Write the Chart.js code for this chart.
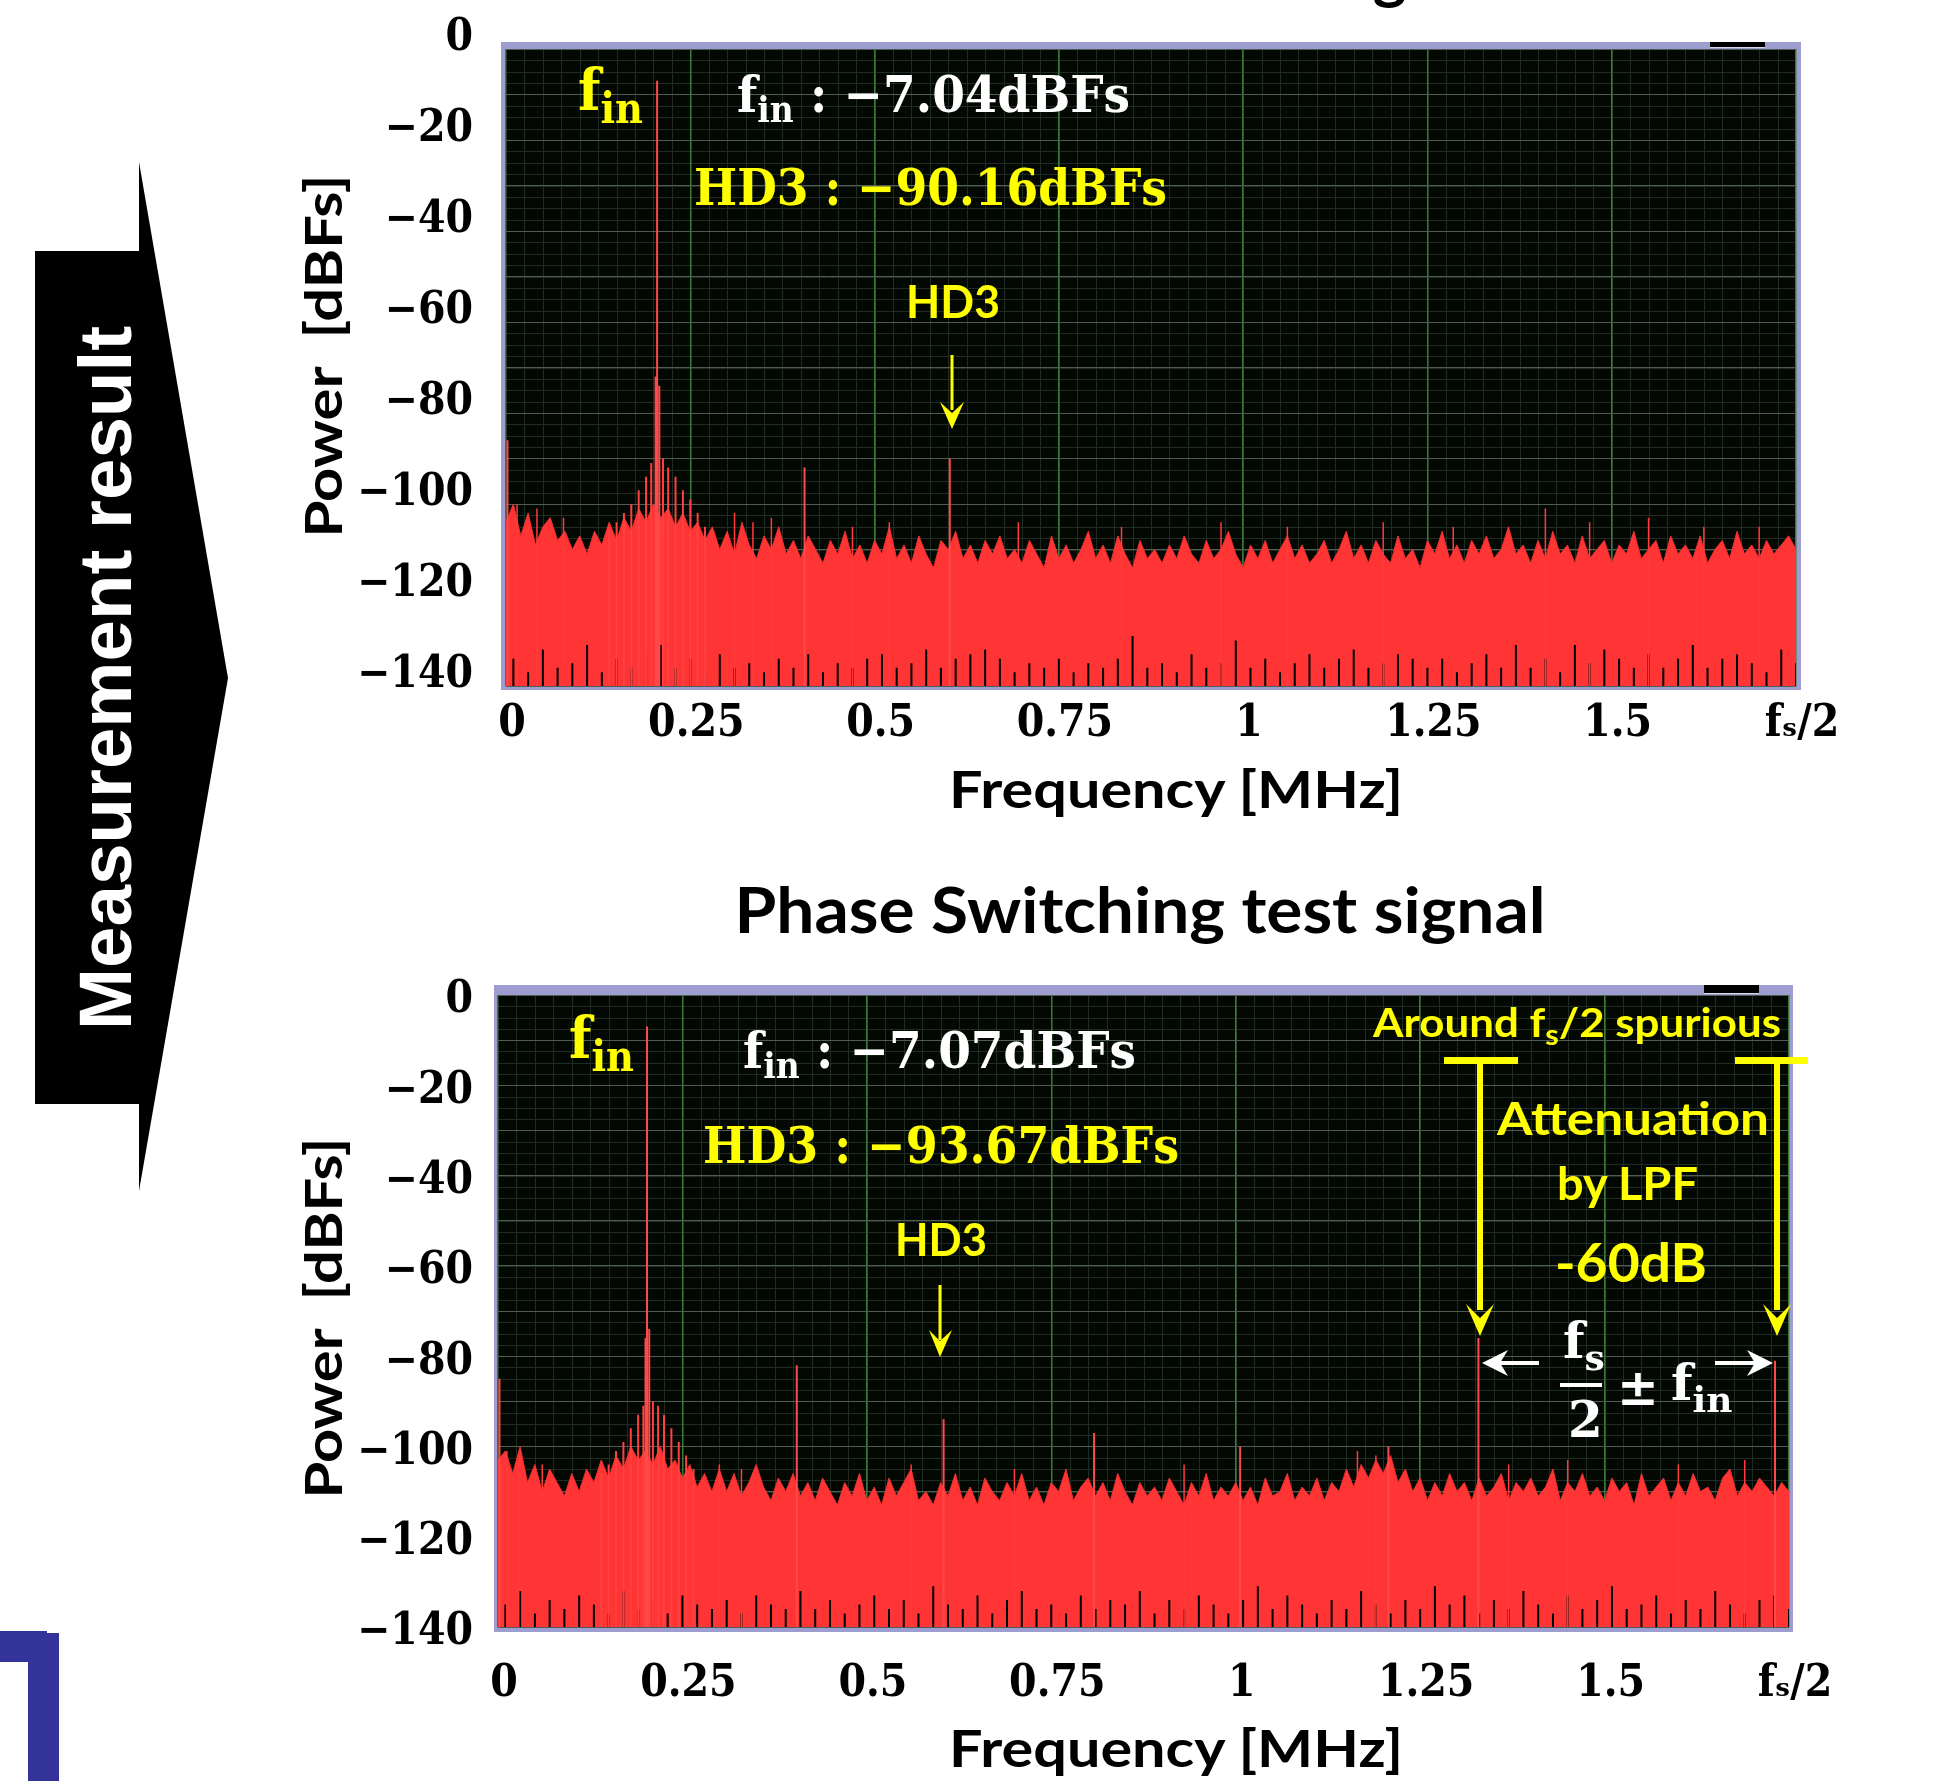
<!DOCTYPE html>
<html>
<head>
<meta charset="utf-8">
<title>Spectrum measurement</title>
<script src="https://cdn.jsdelivr.net/npm/chart.js@4.4.1/dist/chart.umd.min.js"></script>
<style>
  html, body { margin: 0; padding: 0; background: #fff; }
  #page { position: relative; width: 1950px; height: 1781px; overflow: hidden; }
  canvas { position: absolute; left: 0; }
  #overlay { position: absolute; left: 0; top: 0; }
  .serif { font-family: 'DejaVu Serif', serif; font-weight: bold; }
  .sans { font-family: Lato, 'Open Sans', sans-serif; font-weight: bold; }
</style>
</head>
<body>
<div id="page">
  <canvas id="topChart" width="1950" height="760" style="top:0"></canvas>
  <canvas id="bottomChart" width="1950" height="780" style="top:940px"></canvas>

  <svg id="overlay" width="1950" height="1781" viewBox="0 0 1950 1781" xmlns="http://www.w3.org/2000/svg">
    <!-- side arrow -->
    <rect x="35" y="251" width="105" height="853" fill="#000"/>
    <polygon points="139,162 228,678 139,1191" fill="#000"/>
    <text transform="translate(131,678) rotate(-90)" text-anchor="middle" font-family="'Liberation Sans', Arial, sans-serif" font-weight="bold" font-size="75" fill="#fff" textLength="704" lengthAdjust="spacingAndGlyphs">Measurement result</text>
    <!-- bracket bottom left -->
    <rect x="0" y="1631" width="47" height="31" fill="#333399"/>
    <rect x="28" y="1633" width="31" height="148" fill="#333399"/>

    <!-- titles -->
    <text class="sans" x="1150" y="-3" text-anchor="middle" font-size="64">Conventional test signal</text>
    <text class="sans" x="1140" y="933" text-anchor="middle" font-size="64" textLength="811" lengthAdjust="spacingAndGlyphs">Phase Switching test signal</text>

    <!-- axis titles -->
    <text class="sans" x="949" y="808" font-size="52" textLength="454" lengthAdjust="spacingAndGlyphs">Frequency [MHz]</text>
    <text class="sans" x="949" y="1767" font-size="52" textLength="454" lengthAdjust="spacingAndGlyphs">Frequency [MHz]</text>
    <text class="sans" transform="translate(342,356) rotate(-90)" text-anchor="middle" font-size="52" textLength="363" lengthAdjust="spacingAndGlyphs">Power&#160;&#160;[dBFs]</text>
    <text class="sans" transform="translate(342,1318) rotate(-90)" text-anchor="middle" font-size="52" textLength="361" lengthAdjust="spacingAndGlyphs">Power&#160;&#160;[dBFs]</text>

    <!-- top chart notes -->
    <text class="serif" x="578" y="110" font-size="57" fill="#ffff00" textLength="65" lengthAdjust="spacingAndGlyphs">f<tspan font-size="42" dy="13">in</tspan></text>
    <text class="serif" x="737" y="112" font-size="50" fill="#fff" textLength="393" lengthAdjust="spacingAndGlyphs">f<tspan font-size="35" dy="10">in</tspan><tspan dy="-10"> : −7.04dBFs</tspan></text>
    <text class="serif" x="694" y="205" font-size="50" fill="#ffff00" textLength="473" lengthAdjust="spacingAndGlyphs">HD3 : −90.16dBFs</text>
    <text class="sans" x="906" y="318" font-size="46" fill="#ffff00" textLength="94" lengthAdjust="spacingAndGlyphs">HD3</text>
    <rect x="950.5" y="355" width="3" height="55" fill="#ffff00"/>
    <polygon points="940,402 952,413 964,402 952,429" fill="#ffff00"/>

    <!-- bottom chart notes -->
    <text class="serif" x="569" y="1058" font-size="57" fill="#ffff00" textLength="65" lengthAdjust="spacingAndGlyphs">f<tspan font-size="42" dy="13">in</tspan></text>
    <text class="serif" x="743" y="1068" font-size="50" fill="#fff" textLength="393" lengthAdjust="spacingAndGlyphs">f<tspan font-size="35" dy="10">in</tspan><tspan dy="-10"> : −7.07dBFs</tspan></text>
    <text class="serif" x="703" y="1163" font-size="50" fill="#ffff00" textLength="476" lengthAdjust="spacingAndGlyphs">HD3 : −93.67dBFs</text>
    <text class="sans" x="895" y="1256" font-size="46" fill="#ffff00" textLength="92" lengthAdjust="spacingAndGlyphs">HD3</text>
    <rect x="938.5" y="1285" width="3" height="55" fill="#ffff00"/>
    <polygon points="929,1330 940,1341 952,1330 940,1357" fill="#ffff00"/>

    <text class="sans" x="1373" y="1037" font-size="40" fill="#ffff00" textLength="408" lengthAdjust="spacingAndGlyphs">Around f<tspan font-size="28" dy="8">s</tspan><tspan dy="-8">/2 spurious</tspan></text>
    <rect x="1444" y="1057" width="74" height="7" fill="#ffff00"/>
    <rect x="1477" y="1060" width="6" height="250" fill="#ffff00"/>
    <polygon points="1466,1304 1480,1318 1494,1304 1480,1336" fill="#ffff00"/>
    <rect x="1735" y="1057" width="73" height="7" fill="#ffff00"/>
    <rect x="1774" y="1060" width="6" height="250" fill="#ffff00"/>
    <polygon points="1763,1304 1777,1318 1791,1304 1777,1336" fill="#ffff00"/>
    <text class="sans" x="1497" y="1135" font-size="46" fill="#ffff00" textLength="272" lengthAdjust="spacingAndGlyphs">Attenuation</text>
    <text class="sans" x="1557" y="1200" font-size="46" fill="#ffff00" textLength="141" lengthAdjust="spacingAndGlyphs">by LPF</text>
    <text class="sans" x="1555" y="1282" font-size="54" fill="#ffff00" textLength="152" lengthAdjust="spacingAndGlyphs">-60dB</text>

    <!-- fs/2 ± fin -->
    <rect x="1494" y="1361" width="45" height="4" fill="#fff"/>
    <polygon points="1482,1363 1508,1350 1500,1363 1508,1376" fill="#fff"/>
    <rect x="1715" y="1361" width="46" height="4" fill="#fff"/>
    <polygon points="1773,1363 1747,1350 1755,1363 1747,1376" fill="#fff"/>
    <text class="serif" x="1563" y="1358" font-size="50" fill="#fff">f<tspan font-size="36" dy="12">s</tspan></text>
    <rect x="1560" y="1383" width="42" height="4" fill="#fff"/>
    <text class="serif" x="1568" y="1437" font-size="50" fill="#fff">2</text>
    <text class="serif" x="1617" y="1405" font-size="50" fill="#fff">±</text>
    <text class="serif" x="1671" y="1400" font-size="50" fill="#fff">f<tspan font-size="36" dy="12">in</tspan></text>
  </svg>
</div>

<script>
// axes: frequency in MHz (fs/2 = 1.75), power in dBFs
const freqMax = 1.75;
const freqTicks = [0, 0.25, 0.5, 0.75, 1, 1.25, 1.5, 1.75];
const freqTickLabels = ['0', '0.25', '0.5', '0.75', '1', '1.25', '1.5', 'fₛ/2'];
const powerTicks = [0, -20, -40, -60, -80, -100, -120, -140];
const powerTickLabels = ['0', '−20', '−40', '−60', '−80', '−100', '−120', '−140'];

// top of the noise floor, one value every 0.01 MHz from 0 to fs/2
const noiseStep = 0.01;
const noiseTopConv = [
  -104, -100, -107, -102, -109, -105, -103, -108, -106, -110,
  -107, -111, -106, -109, -104, -108, -103, -106, -101, -104,
  -100, -103, -101, -105, -102, -106, -104, -108, -105, -110,
  -106, -111, -104, -109, -112, -107, -110, -105, -111, -108,
  -112, -107, -110, -113, -108, -111, -106, -112, -109, -113,
  -108, -111, -105, -112, -109, -113, -107, -111, -114, -108,
  -110, -106, -112, -109, -113, -108, -111, -107, -112, -110,
  -113, -108, -111, -114, -107, -112, -109, -113, -110, -106,
  -112, -109, -113, -107, -111, -114, -108, -112, -110, -113,
  -109, -112, -107, -111, -113, -108, -112, -110, -106, -111,
  -114, -109, -112, -108, -113, -110, -107, -112, -109, -113,
  -111, -108, -113, -110, -106, -112, -109, -113, -108, -111,
  -113, -107, -112, -110, -114, -108, -111, -106, -112, -109,
  -113, -108, -111, -107, -112, -110, -105, -111, -109, -113,
  -108, -112, -106, -111, -109, -113, -107, -112, -110, -108,
  -113, -109, -111, -106, -112, -110, -108, -113, -107, -111,
  -109, -112, -107, -113, -110, -108, -112, -106, -111, -109,
  -112, -108, -111, -109, -107, -110
];
const noiseTopPhase = [
  -103, -101, -106, -100, -108, -104, -110, -105, -108, -111,
  -106, -110, -105, -108, -103, -107, -102, -105, -100, -103,
  -101, -104, -100, -105, -103, -107, -104, -109, -106, -110,
  -105, -110, -106, -111, -108, -104, -109, -112, -107, -110,
  -106, -111, -108, -112, -107, -110, -113, -108, -111, -106,
  -112, -109, -113, -107, -111, -108, -105, -112, -110, -113,
  -108, -111, -106, -112, -109, -113, -107, -110, -112, -108,
  -111, -106, -112, -109, -113, -108, -110, -105, -112, -109,
  -107, -111, -108, -112, -106, -110, -113, -108, -111, -109,
  -112, -107, -110, -113, -108, -111, -106, -112, -109, -111,
  -108, -112, -109, -113, -107, -111, -110, -106, -112, -109,
  -111, -107, -112, -108, -110, -105, -109, -104, -107, -103,
  -106, -102, -108, -105, -110, -107, -112, -108, -111, -106,
  -110, -108, -112, -107, -111, -109, -106, -112, -108, -110,
  -107, -111, -109, -105, -112, -108, -110, -106, -111, -109,
  -112, -107, -110, -108, -113, -106, -111, -109, -107, -112,
  -108, -111, -106, -110, -109, -112, -107, -105, -111, -108,
  -110, -107, -109, -111, -108, -110
];

// black dips at the bottom of the floor, every 0.02 MHz from 0.01
const dipStart = 0.01;
const dipStep = 0.02;
const dipsConv = [
  -134, -137, -132, -136, -135, -131, -137, -134, -136, -133,
  -131, -136, -134, -137, -133, -136, -135, -137, -134, -136,
  -133, -137, -135, -136, -134, -133, -136, -135, -132, -136,
  -134, -133, -132, -134, -137, -135, -136, -134, -137, -135,
  -136, -134, -129, -136, -135, -137, -133, -136, -135, -130,
  -136, -134, -137, -135, -133, -136, -134, -132, -136, -135,
  -133, -134, -136, -134, -137, -135, -133, -136, -131, -136,
  -134, -137, -131, -135, -132, -134, -136, -133, -136, -134,
  -131, -136, -134, -133, -135, -137, -132, -135
];
const dipsPhase = [
  -135, -132, -137, -134, -136, -133, -135, -137, -132, -136,
  -134, -137, -133, -135, -136, -134, -137, -133, -135, -136,
  -132, -136, -134, -137, -135, -133, -136, -134, -137, -131,
  -135, -136, -133, -137, -134, -132, -136, -135, -137, -133,
  -136, -134, -135, -132, -137, -134, -136, -133, -135, -137,
  -134, -131, -136, -133, -135, -137, -134, -136, -132, -135,
  -137, -134, -136, -131, -135, -133, -137, -134, -136, -132,
  -135, -137, -133, -136, -134, -131, -136, -135, -133, -137,
  -134, -136, -132, -135, -137, -134, -133, -136
];

// thin noise needles above the floor
const needleFreqConv = [0.015, 0.042, 0.078, 0.31, 0.335, 0.36, 0.47, 0.52, 0.695, 0.835, 0.97, 1.06, 1.19, 1.285, 1.41, 1.47, 1.55, 1.625, 1.70];
const needleLevelConv = [-100, -101, -103, -102, -104, -103, -105, -104, -104, -105, -104, -105, -104, -105, -101, -104, -103, -105, -105];
const needleFreqPhase = [0.012, 0.028, 0.06, 0.3, 0.33, 0.56, 0.7, 0.93, 1.165, 1.19, 1.37, 1.45, 1.6, 1.69];
const needleLevelPhase = [-101, -103, -104, -104, -105, -104, -105, -104, -101, -102, -104, -103, -104, -103];

// tones: DC, fin (and its neighbour bins), HD2, HD3, images
const toneFreqConv = [0.002, 0.205, 0.203, 0.208, 0.405, 0.602];
const toneLevelConv = [-86, -7, -72, -74, -92, -90];
const toneFreqPhase = [0.002, 0.202, 0.2, 0.205, 0.405, 0.604, 0.808, 1.006, 1.207, 1.329, 1.731];
const toneLevelPhase = [-85, -7, -76, -74, -82, -94, -97, -100, -100, -76, -81];

// leakage skirt around fin
const skirtFreqConv = [0.14, 0.15, 0.16, 0.17, 0.18, 0.19, 0.197, 0.213, 0.22, 0.23, 0.24, 0.25, 0.26, 0.27];
const skirtLevelConv = [-106, -104, -102, -100, -97, -94, -91, -90, -92, -94, -97, -99, -102, -105];
const skirtFreqPhase = [0.14, 0.15, 0.16, 0.17, 0.18, 0.19, 0.197, 0.21, 0.217, 0.225, 0.235, 0.245, 0.255, 0.265];
const skirtLevelPhase = [-106, -104, -101, -99, -96, -93, -91, -90, -91, -93, -96, -99, -102, -105];

const tickFont = {family: "'DejaVu Serif Condensed', 'DejaVu Serif', serif", weight: 'bold', size: 44};

function freqLabel(v) {
  const i = freqTicks.findIndex(t => Math.abs(t - v) < 1e-6);
  return i >= 0 ? freqTickLabels[i] : '';
}

function powerLabel(v) {
  const i = powerTicks.findIndex(t => Math.abs(t - v) < 1e-6);
  return i >= 0 ? powerTickLabels[i] : '';
}

function floorPoints(levels, start, step) {
  return levels.map((v, i) => ({x: start + i * step, y: v}));
}

// vertical stems from the bottom of the scale up to each level
function stems(freqs, levels) {
  const pts = [];
  freqs.forEach((f, i) => {
    pts.push({x: f, y: -140}, {x: f, y: levels[i]}, {x: f, y: null});
  });
  return pts;
}

// lavender frame, black screen and fine grid behind the chart
const scopeFrame = {
  id: 'scopeFrame',
  beforeDraw(chart, args, opts) {
    const {ctx, chartArea: a} = chart;
    const x = chart.scales.x;
    const y = chart.scales.y;
    ctx.save();
    ctx.fillStyle = '#9d9dd0';
    ctx.fillRect(a.left - opts.side, a.top - opts.top, a.width + 2 * opts.side, a.height + opts.top + opts.bottom);
    ctx.fillStyle = '#000';
    ctx.fillRect(opts.tabX, a.top - opts.top, opts.tabW, opts.top - 1);
    ctx.fillStyle = '#d8d8e8';
    ctx.fillRect(opts.tabX, a.top - 2, opts.tabW, 1);
    ctx.fillStyle = '#030803';
    ctx.fillRect(a.left, a.top, a.width, a.height);

    ctx.strokeStyle = '#1f2c23';
    ctx.lineWidth = 1;
    ctx.beginPath();
    for (let i = 1; i < 70; i++) {
      const px = Math.round(x.getPixelForValue(i * 0.025)) + 0.5;
      ctx.moveTo(px, a.top);
      ctx.lineTo(px, a.bottom);
    }
    for (let i = 1; i < 56; i++) {
      const py = Math.round(y.getPixelForValue(-i * 2.5)) + 0.5;
      ctx.moveTo(a.left, py);
      ctx.lineTo(a.right, py);
    }
    ctx.stroke();
    ctx.restore();
  }
};

function buildChart(id, layout, s) {
  const base = {pointRadius: 0, tension: 0, fill: false};
  return new Chart(document.getElementById(id), {
    type: 'line',
    data: {
      datasets: [
        {...base, data: stems(s.toneFreq, s.toneLevel), borderColor: '#ff4a4a', borderWidth: 2},
        {...base, data: stems(s.skirtFreq, s.skirtLevel), borderColor: '#ff4040', borderWidth: 2},
        {...base, data: stems(s.needleFreq, s.needleLevel), borderColor: '#ff3a3a', borderWidth: 1.5},
        {...base, data: stems(s.dips.map((_, i) => dipStart + i * dipStep), s.dips), borderColor: '#000', borderWidth: 2},
        {...base, data: floorPoints(s.noise, 0, noiseStep), fill: 'start', backgroundColor: '#ff3434', borderColor: '#ee3030', borderWidth: 1},
      ],
    },
    options: {
      responsive: false,
      animation: false,
      devicePixelRatio: 1,
      layout: {padding: layout.padding},
      plugins: {
        legend: {display: false},
        tooltip: {enabled: false},
        scopeFrame: layout.frame,
      },
      scales: {
        x: {
          type: 'linear',
          min: 0,
          max: freqMax,
          afterFit: scale => { scale.height = layout.xHeight; },
          grid: {color: '#3b7a3b', lineWidth: 1.5, drawTicks: false},
          border: {display: false},
          ticks: {
            stepSize: 0.25,
            autoSkip: false,
            maxRotation: 0,
            padding: layout.xPad,
            labelOffset: 6,
            color: '#000',
            font: tickFont,
            callback: v => freqLabel(v),
          },
        },
        y: {
          min: -140,
          max: 0,
          afterFit: scale => { scale.width = layout.yWidth; },
          grid: {color: '#4f5d52', drawTicks: true, tickLength: layout.yTick, tickColor: 'rgba(0,0,0,0)'},
          border: {display: false},
          ticks: {
            stepSize: 10,
            autoSkip: false,
            padding: 3,
            labelOffset: layout.yOffset,
            color: '#000',
            font: tickFont,
            callback: v => powerLabel(v),
          },
        },
      },
    },
    plugins: [scopeFrame],
  });
}

buildChart('topChart', {
  padding: {left: 0, right: 154, top: 49, bottom: 0},
  xHeight: 74,
  yWidth: 506,
  xPad: 12,
  yTick: 30,
  yOffset: -10,
  frame: {top: 7, side: 5, bottom: 4, tabX: 1710, tabW: 55},
}, {
  noise: noiseTopConv, dips: dipsConv,
  needleFreq: needleFreqConv, needleLevel: needleLevelConv,
  toneFreq: toneFreqConv, toneLevel: toneLevelConv,
  skirtFreq: skirtFreqConv, skirtLevel: skirtLevelConv,
});

buildChart('bottomChart', {
  padding: {left: 0, right: 161, top: 55, bottom: 0},
  xHeight: 93,
  yWidth: 498,
  xPad: 31,
  yTick: 22,
  yOffset: 6,
  frame: {top: 10, side: 4, bottom: 5, tabX: 1704, tabW: 55},
}, {
  noise: noiseTopPhase, dips: dipsPhase,
  needleFreq: needleFreqPhase, needleLevel: needleLevelPhase,
  toneFreq: toneFreqPhase, toneLevel: toneLevelPhase,
  skirtFreq: skirtFreqPhase, skirtLevel: skirtLevelPhase,
});
</script>
</body>
</html>
